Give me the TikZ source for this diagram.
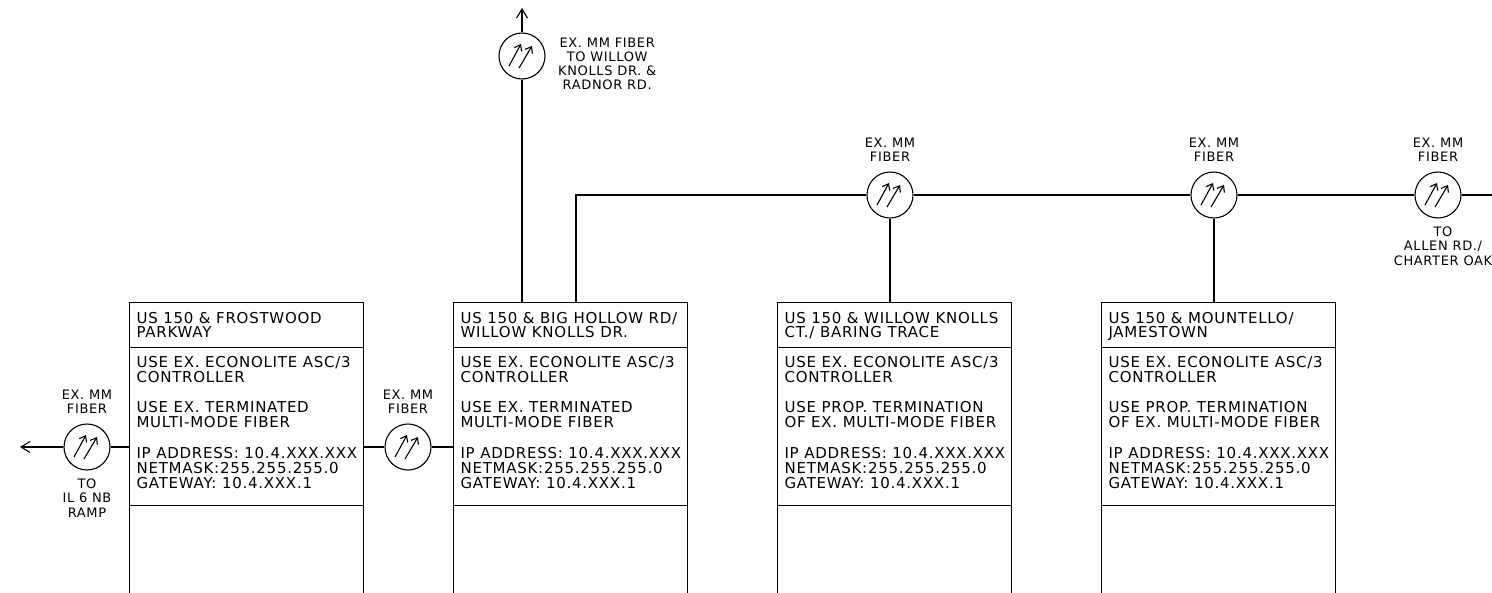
\documentclass[tikz,border=0pt]{standalone}
\usepackage{fontspec}
\setmainfont[LetterSpace=5]{DejaVu Sans}
\usetikzlibrary{arrows.meta,positioning}
\tikzset{
  ctlbox/.style={draw, rectangle, anchor=north west, minimum width=234pt, minimum height=330pt, inner sep=0pt},
  ctltext/.style={align=left, inner sep=0pt, anchor=base west, font=\fontsize{15}{15.1}\selectfont},
  ctltitle/.style={ctltext, font=\fontsize{15}{14}\selectfont},
  fiber/.style={draw, circle, minimum size=46pt, inner sep=0pt},
  fiblabel/.style={align=center, inner sep=0pt, font=\fontsize{13}{14.2}\selectfont},
  endarrow/.style={-{Straight Barb[length=9pt,width=11pt]}},
  fibarrow/.style={line width=1.1pt, -{Straight Barb[length=5.5pt,width=8.5pt]}}
}
\begin{document}
\begin{tikzpicture}[x=1pt,y=-1pt,line width=1.1pt]
	\useasboundingbox (0,0) rectangle (1492,592);
	% controller cabinets
	\node[ctlbox] (box1) at (129,301.5) {};
	\node[ctlbox] (box2) at (453,301.5) {};
	\node[ctlbox] (box3) at (777,301.5) {};
	\node[ctlbox] (box4) at (1101,301.5) {};
	\foreach \b in {box1,box2,box3,box4} {
		\draw ([shift={(0,46)}]\b.north west) -- ([shift={(0,46)}]\b.north east);
		\draw ([shift={(0,204)}]\b.north west) -- ([shift={(0,204)}]\b.north east);
	}
	% base of a text node is its last line
	\node[ctltitle] (title1) at ([shift={(7,35.5)}]box1.north west) {US 150 \& FROSTWOOD\\PARKWAY};
	\node[ctltext] (info1) at ([shift={(7,186.8)}]box1.north west) {USE EX. ECONOLITE ASC/3\\CONTROLLER\\[15.1pt]USE EX. TERMINATED\\MULTI-MODE FIBER\\[15.1pt]IP ADDRESS: 10.4.XXX.XXX\\NETMASK:255.255.255.0\\GATEWAY: 10.4.XXX.1};
	\node[ctltitle] (title2) at ([shift={(7,35.5)}]box2.north west) {US 150 \& BIG HOLLOW RD/\\WILLOW KNOLLS DR.};
	\node[ctltext] (info2) at ([shift={(7,186.8)}]box2.north west) {USE EX. ECONOLITE ASC/3\\CONTROLLER\\[15.1pt]USE EX. TERMINATED\\MULTI-MODE FIBER\\[15.1pt]IP ADDRESS: 10.4.XXX.XXX\\NETMASK:255.255.255.0\\GATEWAY: 10.4.XXX.1};
	\node[ctltitle] (title3) at ([shift={(7,35.5)}]box3.north west) {US 150 \& WILLOW KNOLLS\\CT./ BARING TRACE};
	\node[ctltext] (info3) at ([shift={(7,186.8)}]box3.north west) {USE EX. ECONOLITE ASC/3\\CONTROLLER\\[15.1pt]USE PROP. TERMINATION\\OF EX. MULTI-MODE FIBER\\[15.1pt]IP ADDRESS: 10.4.XXX.XXX\\NETMASK:255.255.255.0\\GATEWAY: 10.4.XXX.1};
	\node[ctltitle] (title4) at ([shift={(7,35.5)}]box4.north west) {US 150 \& MOUNTELLO/\\JAMESTOWN};
	\node[ctltext] (info4) at ([shift={(7,186.8)}]box4.north west) {USE EX. ECONOLITE ASC/3\\CONTROLLER\\[15.1pt]USE PROP. TERMINATION\\OF EX. MULTI-MODE FIBER\\[15.1pt]IP ADDRESS: 10.4.XXX.XXX\\NETMASK:255.255.255.0\\GATEWAY: 10.4.XXX.1};
	% fiber splices
	\node[fiber] (fib1) at (87,447) {};
	\node[fiber] (fib2) at (408,447) {};
	\node[fiber] (fib3) at (522,56) {};
	\node[fiber] (fib4) at (890,195) {};
	\node[fiber] (fib5) at (1214,195) {};
	\node[fiber] (fib6) at (1438,195) {};
	\foreach \i in {1,...,6} {
		\draw[fibarrow] ([shift={(-13,10)}]fib\i.center) -- ++(12,-22);
		\draw[fibarrow] ([shift={(-3,12)}]fib\i.center) -- ++(13,-22);
	}
	\node[fiblabel, above=9pt of fib1] (lab1) {EX. MM\\FIBER};
	\node[fiblabel, below=8pt of fib1] (to1) {TO\\IL 6 NB\\RAMP};
	\node[fiblabel, above=9pt of fib2] (lab2) {EX. MM\\FIBER};
	\node[fiblabel, right=12pt of fib3, yshift=-8pt] (lab3) {EX. MM FIBER\\TO WILLOW\\KNOLLS DR. \&\\RADNOR RD.};
	\node[fiblabel, above=9pt of fib4] (lab4) {EX. MM\\FIBER};
	\node[fiblabel, above=9pt of fib5] (lab5) {EX. MM\\FIBER};
	\node[fiblabel, above=9pt of fib6] (lab6) {EX. MM\\FIBER};
	\node[fiblabel, below=8pt of fib6, xshift=5pt] (to6) {TO\\ALLEN RD./\\CHARTER OAK};
	% connectors
	\coordinate (westend) at (20,447);
	\coordinate (northend) at (522,8);
	\coordinate (trunk) at (576,195);
	\coordinate (eastend) at (1492,195);
	\draw[endarrow] (fib1) -- (westend);
	\draw (fib1) -- (box1.west |- fib1);
	\draw (box1.east |- fib2) -- (fib2) -- (box2.west |- fib2);
	\draw (box2.north -| fib3) -- (fib3);
	\draw[endarrow] (fib3) -- (northend);
	\draw (box2.north -| trunk) -- (trunk) -- (fib4) -- (fib5) -- (fib6) -- (eastend);
	\draw (fib4) -- (box3.north -| fib4);
	\draw (fib5) -- (box4.north -| fib5);
\end{tikzpicture}
\end{document}
